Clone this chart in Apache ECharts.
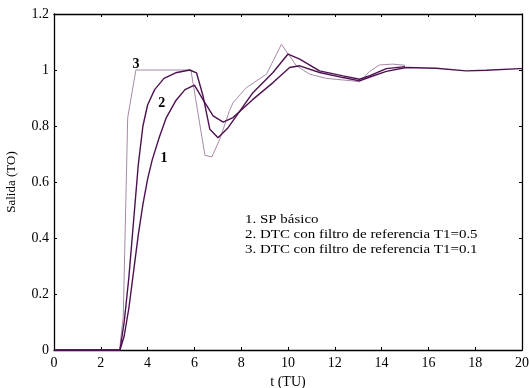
<!DOCTYPE html>
<html><head><meta charset="utf-8">
<script src="https://cdn.jsdelivr.net/npm/echarts@6/dist/echarts.min.js"></script>
<style>html,body{margin:0;padding:0;background:#fff}#c{width:529px;height:388px}</style>
</head><body><div id="c"></div>
<script>
var xTicks = [0,2,4,6,8,10,12,14,16,18,20];
var yTicks = [0,0.2,0.4,0.6,0.8,1,1.2];
var curve1 = [[0,0],[2.82,0],[3.0,0.05],[3.2,0.15],[3.4,0.28],[3.6,0.41],[3.8,0.52],[4.0,0.61],[4.2,0.68],[4.5,0.76],[4.8,0.83],[5.2,0.89],[5.6,0.93],[6.0,0.946],[6.4,0.89],[6.8,0.836],[7.23,0.814],[7.65,0.83],[8.5,0.895],[9.36,0.955],[10.07,1.009],[10.5,1.015],[11.35,0.991],[12.35,0.973],[13.06,0.961],[13.5,0.975],[14.2,0.995],[15.05,1.009],[16.33,1.006],[17.61,0.997],[18.47,0.999],[19.9,1.005],[20,1.005]];
var curve2 = [[0,0],[2.82,0],[3.0,0.1],[3.2,0.26],[3.4,0.46],[3.6,0.66],[3.8,0.8],[4.0,0.875],[4.3,0.93],[4.7,0.97],[5.2,0.99],[5.8,1.0],[6.09,0.99],[6.37,0.907],[6.66,0.788],[7.01,0.758],[7.44,0.794],[7.94,0.853],[8.5,0.919],[9.36,0.991],[10.0,1.057],[10.5,1.039],[11.35,0.997],[12.35,0.979],[13.06,0.967],[13.5,0.98],[14.2,1.005],[15.0,1.012]];
var curve3 = [[0,0],[2.8,0],[2.96,0.12],[3.15,0.83],[3.5,1.0],[5.85,1.0],[6.45,0.695],[6.75,0.69],[7.08,0.752],[7.5,0.855],[7.65,0.883],[8.22,0.937],[9.08,0.985],[9.72,1.092],[10.36,1.015],[10.93,0.985],[11.64,0.97],[12.77,0.961],[13.06,0.958],[13.49,0.995],[13.91,1.018],[14.48,1.021],[15.0,1.017]];
var curveLabels = [{n:'1', x:4.7, y:0.685},{n:'2', x:4.6, y:0.88},{n:'3', x:3.5, y:1.02}];
var legendLines = ['1. SP básico','2. DTC con filtro de referencia T1=0.5','3. DTC con filtro de referencia T1=0.1'];

var serif = '"Liberation Serif","DejaVu Serif",serif';
var dark = '#4e1150', light = '#a88aa8';
var chart = echarts.init(document.getElementById('c'), null, {renderer:'canvas'});
function ax(extra){
  return Object.assign({
    min: 0,
    axisLine:{show:true,onZero:false,lineStyle:{color:'#000',width:1.3}},
    axisTick:{show:true,inside:true,length:3,lineStyle:{color:'#000'}},
    splitLine:{show:false}
  }, extra);
}
function lbl(i){
  return {symbol:'circle',symbolSize:0,data:[{coord:[curveLabels[i].x,curveLabels[i].y],
    label:{show:true,formatter:curveLabels[i].n,fontFamily:serif,fontWeight:'bold',fontSize:14,color:'#000'}}]};
}
chart.setOption({
  animation:false,
  backgroundColor:'#fff',
  grid:{left:54,right:7,top:14,bottom:38,containLabel:false,outerBoundsMode:'none'},
  xAxis:[
    ax({type:'value',position:'bottom',max:20,interval:2,
      axisLabel:{fontFamily:serif,fontSize:14,color:'#000',margin:6},
      name:'t (TU)',nameLocation:'middle',nameGap:19,nameTextStyle:{fontFamily:serif,fontSize:14,color:'#000'}}),
    ax({type:'value',position:'top',max:20,interval:2,axisLabel:{show:false}})
  ],
  yAxis:[
    ax({type:'value',position:'left',max:1.2,interval:0.2,
      axisLabel:{fontFamily:serif,fontSize:14,color:'#000',margin:5,formatter:function(v){return String(Math.round(v*10)/10);}},
      name:'Salida (TO)',nameLocation:'middle',nameGap:36,nameRotate:90,nameTextStyle:{fontFamily:serif,fontSize:13,color:'#000'}}),
    ax({type:'value',position:'right',max:1.2,interval:0.2,axisLabel:{show:false}})
  ],
  series:[
    {type:'line',data:curve3,showSymbol:false,lineStyle:{color:light,width:1},z:1,markPoint:lbl(2)},
    {type:'line',data:curve2,showSymbol:false,lineStyle:{color:dark,width:1.4},z:2,markPoint:lbl(1)},
    {type:'line',data:curve1,showSymbol:false,lineStyle:{color:dark,width:1.4},z:3,markPoint:lbl(0)}
  ],
  graphic: legendLines.map(function(t,i){
    return {type:'text',left:245,top:213+i*15,scaleX:1.15,style:{text:t,font:'13px '+serif,fill:'#000'}};
  })
});
</script></body></html>
